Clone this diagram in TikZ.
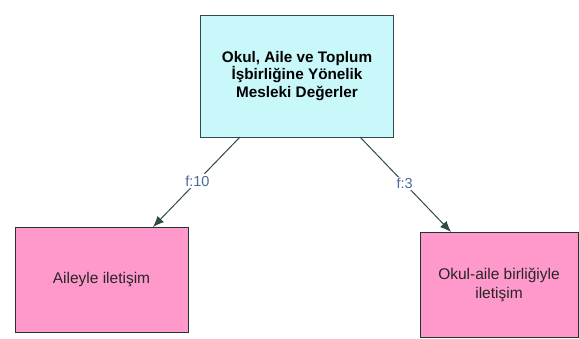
\documentclass[tikz,border=0pt]{standalone}
\usepackage{fontspec}
\setmainfont{Liberation Sans}
\usetikzlibrary{arrows.meta}
\definecolor{topfill}{HTML}{C8F8FA}
\definecolor{pinkfill}{HTML}{FF99CC}
\definecolor{edgecol}{HTML}{2F4A48}
\definecolor{labelcol}{HTML}{4A6A9A}
\begin{document}
\begin{tikzpicture}[x=1pt,y=-1pt,
  mainbox/.style={draw=edgecol, line width=0.9pt, fill=topfill, minimum width=193pt, minimum height=122pt,
    align=center, font=\bfseries\fontsize{15.3}{17.6}\selectfont, text=black},
  leafbox/.style={draw=edgecol!70!black, line width=0.9pt, fill=pinkfill, minimum height=105pt,
    align=center, font=\fontsize{15.5}{20}\selectfont, text=black!85},
  link/.style={draw=edgecol, line width=1pt, -{Latex[length=11pt,width=9pt]}},
  tag/.style={fill=white, inner sep=1.5pt, text=labelcol, font=\fontsize{14.5}{16}\selectfont}]
\useasboundingbox (0,0) rectangle (579,338);
\node[mainbox] (top) at (297,76) {Okul, Aile ve Toplum\\İşbirliğine Yönelik\\Mesleki Değerler};
\node[leafbox, minimum width=173pt] (left) at (101.5,279.5) {Aileyle iletişim};
\node[leafbox, minimum width=158pt] (right) at (499,284.5) {\raisebox{-3pt}{\begin{tabular}{@{}c@{}}Okul-aile birliğiyle\\[-1pt]iletişim\end{tabular}}};
\coordinate (s1) at (240,137);
\coordinate (e1) at (153,227);
\coordinate (s2) at (360,137);
\coordinate (e2) at (451,232);
\draw[link] (s1) -- node[tag, pos=0.49] {f:10} (e1);
\draw[link] (s2) -- node[tag, pos=0.49] {f:3} (e2);
\end{tikzpicture}
\end{document}
